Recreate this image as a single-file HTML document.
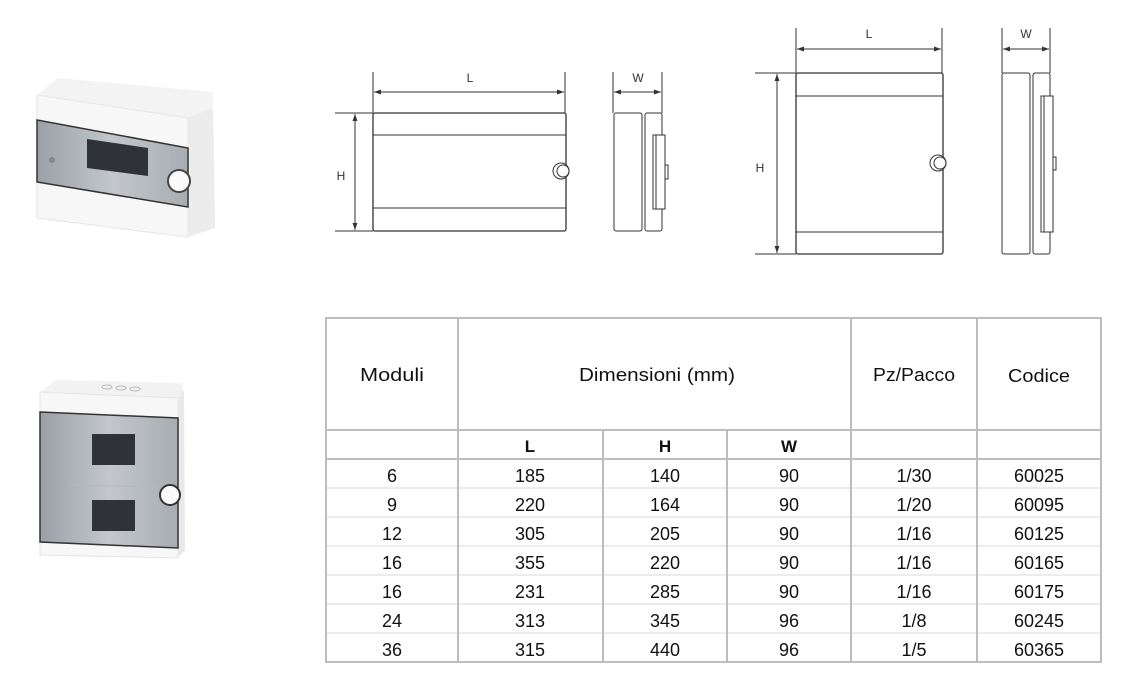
<!DOCTYPE html>
<html><head><meta charset="utf-8"><style>
html,body{margin:0;padding:0;background:#fff;}
svg{display:block}
.t{font-family:"Liberation Sans",sans-serif;}
</style></head><body>
<svg width="1147" height="681" viewBox="0 0 1147 681" xmlns="http://www.w3.org/2000/svg">
<defs>
<marker id="a" viewBox="0 0 10 10" refX="10" refY="5" markerWidth="7" markerHeight="7" orient="auto-start-reverse"><path d="M0,1.5 L10,5 L0,8.5 z" fill="#333"/></marker>
<linearGradient id="sm" x1="0" y1="0" x2="1" y2="0"><stop offset="0" stop-color="#9aa0a6"/><stop offset="0.5" stop-color="#c3c7cb"/><stop offset="1" stop-color="#a8adb2"/></linearGradient>
</defs>
<!-- Photo 1 -->
<polygon points="37,95 58,78 213,92 213,110 188,120 37,95" fill="#f3f3f3"/>
<polygon points="37,95 188,118 188,237 37,218" fill="#f7f7f7" stroke="#e6e6e6"/>
<polygon points="188,118 213,108 215,228 188,237" fill="#ececec"/>
<polygon points="37,120 188,148 188,207 37,182" fill="url(#sm)" stroke="#333" stroke-width="1.5"/>
<polygon points="87,139 148,148 148,176 87,168" fill="#2f3236"/>
<circle cx="52" cy="160" r="3" fill="#888"/>
<circle cx="179" cy="181" r="11" fill="#fafafa" stroke="#444" stroke-width="2"/>
<!-- Photo 2 -->
<polygon points="40,392 56,380 182,383 184,398 175,410 40,412" fill="#f2f2f2"/>
<polygon points="40,392 178,398 178,558 40,555" fill="#f7f7f7" stroke="#e4e4e4"/>
<polygon points="178,398 184,390 185,550 178,558" fill="#e9e9e9"/>
<polygon points="40,412 178,418 178,548 40,542" fill="url(#sm)" stroke="#333" stroke-width="1.5"/>
<rect x="92" y="434" width="43" height="31" fill="#2f3236"/>
<rect x="92" y="500" width="43" height="31" fill="#2f3236"/>
<line x1="70" y1="485" x2="160" y2="487" stroke="#b5b8bb"/>
<circle cx="170" cy="495" r="10" fill="#fafafa" stroke="#333" stroke-width="2"/>
<g fill="none" stroke="#bbb"><ellipse cx="107" cy="387" rx="5" ry="2"/><ellipse cx="121" cy="388" rx="5" ry="2"/><ellipse cx="135" cy="389" rx="5" ry="2"/></g>

<!-- Drawing 1 -->
<g stroke="#333" fill="none" stroke-width="1">
<line x1="373" y1="72" x2="373" y2="113"/><line x1="565" y1="72" x2="565" y2="113"/>
<line x1="374" y1="92" x2="564" y2="92" marker-start="url(#a)" marker-end="url(#a)"/>
<line x1="335" y1="113" x2="373" y2="113"/><line x1="335" y1="231" x2="373" y2="231"/>
<line x1="355" y1="114" x2="355" y2="230" marker-start="url(#a)" marker-end="url(#a)"/>
<rect x="373" y="113" width="193" height="118" rx="2" stroke-width="1.3"/>
<line x1="373" y1="135" x2="566" y2="135"/><line x1="373" y1="208" x2="566" y2="208"/>
<circle cx="561" cy="171" r="8" fill="#fff"/><circle cx="563" cy="171" r="6"/>
<line x1="613" y1="72" x2="613" y2="113"/><line x1="662" y1="72" x2="662" y2="113"/>
<line x1="614" y1="92" x2="661" y2="92" marker-start="url(#a)" marker-end="url(#a)"/>
<rect x="614" y="113" width="28" height="118" rx="2"/>
<rect x="645" y="113" width="17" height="118" rx="2"/>
<rect x="653" y="135" width="12" height="74" fill="#fff"/><line x1="656" y1="135" x2="656" y2="209"/>
<rect x="665" y="165" width="3" height="14"/>
</g>
<text class="t" x="470" y="82" font-size="12" text-anchor="middle" fill="#333">L</text>
<text class="t" x="638" y="82" font-size="12" text-anchor="middle" fill="#333">W</text>
<text class="t" x="341" y="180" font-size="12" text-anchor="middle" fill="#333">H</text>

<!-- Drawing 2 -->
<g stroke="#333" fill="none" stroke-width="1">
<line x1="796" y1="28" x2="796" y2="73"/><line x1="942" y1="28" x2="942" y2="73"/>
<line x1="797" y1="49" x2="941" y2="49" marker-start="url(#a)" marker-end="url(#a)"/>
<line x1="755" y1="73" x2="796" y2="73"/><line x1="755" y1="254" x2="796" y2="254"/>
<line x1="777" y1="74" x2="777" y2="253" marker-start="url(#a)" marker-end="url(#a)"/>
<rect x="796" y="73" width="147" height="181" rx="2" stroke-width="1.3"/>
<line x1="796" y1="96" x2="943" y2="96"/><line x1="796" y1="232" x2="943" y2="232"/>
<circle cx="938" cy="163" r="8" fill="#fff"/><circle cx="940" cy="163" r="6"/>
<line x1="1002" y1="28" x2="1002" y2="73"/><line x1="1050" y1="28" x2="1050" y2="73"/>
<line x1="1003" y1="49" x2="1049" y2="49" marker-start="url(#a)" marker-end="url(#a)"/>
<rect x="1002" y="73" width="28" height="181" rx="2"/>
<rect x="1033" y="73" width="17" height="181" rx="2"/>
<rect x="1041" y="96" width="12" height="136" fill="#fff"/><line x1="1044" y1="96" x2="1044" y2="232"/>
<rect x="1053" y="157" width="3" height="13"/>
</g>
<text class="t" x="869" y="38" font-size="12" text-anchor="middle" fill="#333">L</text>
<text class="t" x="1026" y="38" font-size="12" text-anchor="middle" fill="#333">W</text>
<text class="t" x="760" y="172" font-size="12" text-anchor="middle" fill="#333">H</text>

<!-- Table -->
<g stroke="#d8d8d8" stroke-width="1">
<line x1="326" y1="488" x2="1101" y2="488"/><line x1="326" y1="517" x2="1101" y2="517"/>
<line x1="326" y1="546" x2="1101" y2="546"/><line x1="326" y1="575" x2="1101" y2="575"/>
<line x1="326" y1="604" x2="1101" y2="604"/><line x1="326" y1="633" x2="1101" y2="633"/>
</g>
<g stroke="#bdbdbd" stroke-width="2" fill="none">
<rect x="326" y="318" width="775" height="344"/>
<line x1="326" y1="430" x2="1101" y2="430"/><line x1="326" y1="459" x2="1101" y2="459"/>
<line x1="458" y1="318" x2="458" y2="662"/><line x1="851" y1="318" x2="851" y2="662"/>
<line x1="977" y1="318" x2="977" y2="662"/>
<line x1="603" y1="430" x2="603" y2="662"/><line x1="727" y1="430" x2="727" y2="662"/>
</g>
<g class="t" font-size="18" text-anchor="middle" fill="#111">
<text x="392" y="381" textLength="64" lengthAdjust="spacingAndGlyphs">Moduli</text>
<text x="657" y="381" textLength="156" lengthAdjust="spacingAndGlyphs">Dimensioni (mm)</text>
<text x="914" y="381" textLength="82" lengthAdjust="spacingAndGlyphs">Pz/Pacco</text>
<text x="1039" y="382" textLength="62" lengthAdjust="spacingAndGlyphs">Codice</text>
<g font-weight="bold" font-size="17"><text x="530" y="452">L</text><text x="665" y="452">H</text><text x="789" y="452">W</text></g>
</g>
<g class="t" font-size="18" text-anchor="middle" fill="#111">
<g transform="translate(0,482)"><text x="392">6</text><text x="530">185</text><text x="665">140</text><text x="789">90</text><text x="914">1/30</text><text x="1039">60025</text></g>
<g transform="translate(0,511)"><text x="392">9</text><text x="530">220</text><text x="665">164</text><text x="789">90</text><text x="914">1/20</text><text x="1039">60095</text></g>
<g transform="translate(0,540)"><text x="392">12</text><text x="530">305</text><text x="665">205</text><text x="789">90</text><text x="914">1/16</text><text x="1039">60125</text></g>
<g transform="translate(0,569)"><text x="392">16</text><text x="530">355</text><text x="665">220</text><text x="789">90</text><text x="914">1/16</text><text x="1039">60165</text></g>
<g transform="translate(0,598)"><text x="392">16</text><text x="530">231</text><text x="665">285</text><text x="789">90</text><text x="914">1/16</text><text x="1039">60175</text></g>
<g transform="translate(0,627)"><text x="392">24</text><text x="530">313</text><text x="665">345</text><text x="789">96</text><text x="914">1/8</text><text x="1039">60245</text></g>
<g transform="translate(0,656)"><text x="392">36</text><text x="530">315</text><text x="665">440</text><text x="789">96</text><text x="914">1/5</text><text x="1039">60365</text></g>
</g>
</svg>
</body></html>
